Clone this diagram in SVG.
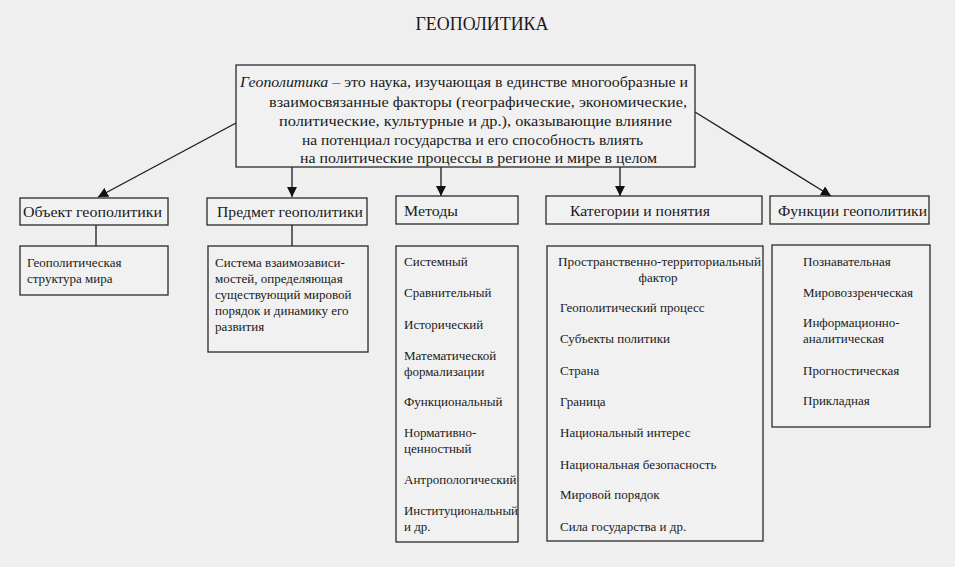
<svg xmlns="http://www.w3.org/2000/svg" width="955" height="567" viewBox="0 0 955 567">
<style>
.bg{fill:#efefef}
.box{fill:#f1f1f1;stroke:#2a2a2a;stroke-width:1.3}
.t{font-family:"Liberation Serif","Times New Roman",serif;fill:#1a1a1a}
.main{font-size:15px}
.hd{font-size:15px}
.it{font-size:13px}
.con{stroke:#1a1a1a;stroke-width:1.3;fill:none}
</style>
<defs>
<marker id="ah" viewBox="0 0 10 10" refX="10" refY="5" markerWidth="10" markerHeight="10" markerUnits="userSpaceOnUse" orient="auto">
<path d="M0,0 L10,5 L0,10 z" fill="#111"/>
</marker>
</defs>
<rect class="bg" x="0" y="0" width="955" height="567"/>
<text class="t" x="482" y="30" font-size="18" text-anchor="middle" textLength="133" lengthAdjust="spacingAndGlyphs">ГЕОПОЛИТИКА</text>

<g id="connectors">
<line class="con" x1="236" y1="123" x2="98" y2="197" marker-end="url(#ah)"/>
<line class="con" x1="292" y1="167" x2="292" y2="197" marker-end="url(#ah)"/>
<line class="con" x1="441" y1="167" x2="441" y2="196" marker-end="url(#ah)"/>
<line class="con" x1="620" y1="167" x2="620" y2="196" marker-end="url(#ah)"/>
<line class="con" x1="695" y1="112" x2="831" y2="196" marker-end="url(#ah)"/>
<line class="con" x1="96" y1="225" x2="96" y2="246"/>
<line class="con" x1="292" y1="225" x2="292" y2="246"/>
</g>

<g id="main">
<rect class="box" x="236" y="65" width="459" height="102"/>
<text class="t main" x="240" y="87" textLength="448" lengthAdjust="spacingAndGlyphs"><tspan font-style="italic">Геополитика</tspan> – это наука, изучающая в единстве многообразные и</text>
<text class="t main" x="269" y="107" textLength="418" lengthAdjust="spacingAndGlyphs">взаимосвязанные факторы (географические, экономические,</text>
<text class="t main" x="279" y="126" textLength="393" lengthAdjust="spacingAndGlyphs">политические, культурные и др.), оказывающие влияние</text>
<text class="t main" x="302" y="145" textLength="341" lengthAdjust="spacingAndGlyphs">на потенциал государства и его способность влиять</text>
<text class="t main" x="300" y="163" textLength="357" lengthAdjust="spacingAndGlyphs">на политические процессы в регионе и мире в целом</text>
</g>

<g id="object">
<rect class="box" x="20" y="198" width="148" height="27"/>
<text class="t hd" x="23" y="217" textLength="139" lengthAdjust="spacingAndGlyphs">Объект геополитики</text>
</g>
<g id="object-content">
<rect class="box" x="20" y="246" width="148" height="49"/>
<text class="t it" x="27" y="267">Геополитическая</text>
<text class="t it" x="27" y="283">структура мира</text>
</g>

<g id="subject">
<rect class="box" x="207" y="198" width="160" height="27"/>
<text class="t hd" x="217" y="217" textLength="146" lengthAdjust="spacingAndGlyphs">Предмет геополитики</text>
</g>
<g id="subject-content">
<rect class="box" x="208" y="246" width="160" height="106"/>
<text class="t it" x="215" y="267">Система взаимозависи-</text>
<text class="t it" x="215" y="283">мостей, определяющая</text>
<text class="t it" x="215" y="299">существующий мировой</text>
<text class="t it" x="215" y="315">порядок и динамику его</text>
<text class="t it" x="215" y="331">развития</text>
</g>

<g id="methods">
<rect class="box" x="396" y="196" width="122" height="28"/>
<text class="t hd" x="404" y="216" textLength="54" lengthAdjust="spacingAndGlyphs">Методы</text>
</g>
<g id="methods-list">
<rect class="box" x="396" y="246" width="122" height="296"/>
<text class="t it" x="404" y="266">Системный</text>
<text class="t it" x="404" y="297">Сравнительный</text>
<text class="t it" x="404" y="329">Исторический</text>
<text class="t it" x="404" y="360">Математической</text>
<text class="t it" x="404" y="376">формализации</text>
<text class="t it" x="404" y="406">Функциональный</text>
<text class="t it" x="404" y="437">Нормативно-</text>
<text class="t it" x="404" y="453">ценностный</text>
<text class="t it" x="404" y="484">Антропологический</text>
<text class="t it" x="404" y="515" textLength="114" lengthAdjust="spacingAndGlyphs">Институциональный</text>
<text class="t it" x="404" y="531">и др.</text>
</g>

<g id="categories">
<rect class="box" x="546" y="196" width="216" height="28"/>
<text class="t hd" x="570" y="216" textLength="140" lengthAdjust="spacingAndGlyphs">Категории и понятия</text>
</g>
<g id="categories-list">
<rect class="box" x="547" y="246" width="216" height="295"/>
<text class="t it" x="558" y="266" textLength="203" lengthAdjust="spacingAndGlyphs">Пространственно-территориальный</text>
<text class="t it" x="658" y="282" text-anchor="middle">фактор</text>
<text class="t it" x="560" y="312">Геополитический процесс</text>
<text class="t it" x="560" y="343">Субъекты политики</text>
<text class="t it" x="560" y="375">Страна</text>
<text class="t it" x="560" y="406">Граница</text>
<text class="t it" x="560" y="437">Национальный интерес</text>
<text class="t it" x="560" y="469">Национальная безопасность</text>
<text class="t it" x="560" y="499">Мировой порядок</text>
<text class="t it" x="560" y="531">Сила государства и др.</text>
</g>

<g id="functions">
<rect class="box" x="770" y="196" width="159" height="28"/>
<text class="t hd" x="778" y="216" textLength="149" lengthAdjust="spacingAndGlyphs">Функции геополитики</text>
</g>
<g id="functions-list">
<rect class="box" x="772" y="245" width="158" height="182"/>
<text class="t it" x="803" y="266">Познавательная</text>
<text class="t it" x="803" y="297">Мировоззренческая</text>
<text class="t it" x="803" y="327">Информационно-</text>
<text class="t it" x="803" y="343">аналитическая</text>
<text class="t it" x="803" y="375">Прогностическая</text>
<text class="t it" x="803" y="405">Прикладная</text>
</g>
</svg>
